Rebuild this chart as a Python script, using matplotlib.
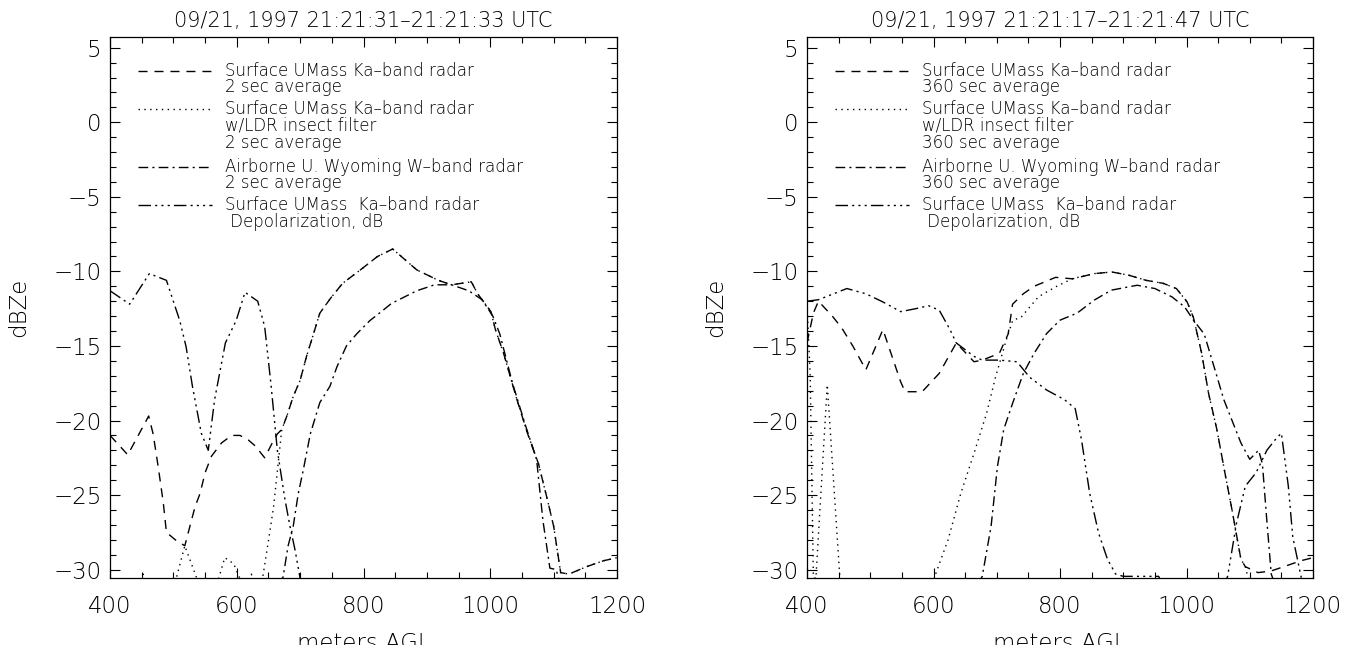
import matplotlib.pyplot as plt
from matplotlib.ticker import MultipleLocator

plt.rcParams['font.family'] = 'DejaVu Sans'
plt.rcParams['font.weight'] = 'light'
plt.rcParams['axes.titleweight'] = 'light'
plt.rcParams['axes.labelweight'] = 'light'

# ---- left panel: 2 sec average ----
left_title = '09/21, 1997 21:21:31\u201321:21:33 UTC'
left_avg = '2 sec average'

left_ka_x = [400, 428, 461, 468, 476, 484, 489, 503, 518, 534, 542, 550, 560, 576, 592, 605, 618, 629, 644, 656,
             664, 671, 679, 689, 700, 710, 721, 731, 748, 767, 795, 822, 846, 884, 918, 939, 970, 980, 1001, 1008,
             1021, 1042, 1059, 1076, 1090, 1100, 1111, 1124, 1152, 1179, 1200]
left_ka_y = [-21.0, -22.3, -19.7, -20.9, -23.1, -25.5, -27.5, -28.0, -28.4, -25.8, -24.9, -23.5, -22.4, -21.5, -21.0,
             -21.0, -21.3, -21.7, -22.5, -21.5, -20.9, -20.6, -19.7, -18.4, -17.3, -15.7, -14.2, -12.8, -11.8, -10.8,
             -9.9, -9.0, -8.5, -9.9, -10.6, -10.9, -10.7, -11.5, -12.7, -13.9, -15.5, -18.6, -20.9, -22.9, -25.3,
             -27.1, -30.2, -30.3, -29.8, -29.4, -29.2]

left_filt_x = [400, 448, 452, 458, 500, 505, 518, 537, 568, 572, 581, 595, 605, 618, 623, 628, 641, 652, 658, 666,
               671, 679, 689, 700, 710, 721, 731, 748, 767, 795, 822, 846, 884, 918, 939, 970, 980, 1001, 1008, 1021,
               1042, 1059, 1076, 1090, 1100, 1111, 1124, 1152, 1179, 1200]
left_filt_y = [-31, -31, -30.3, -31, -31, -30.5, -28.4, -30.6, -31, -30.5, -29.2, -29.6, -30.6, -31, -30.3, -31,
               -30.5, -27.5, -25.8, -22.6, -20.6, -19.7, -18.4, -17.3, -15.7, -14.2, -12.8, -11.8, -10.8, -9.9,
               -9.0, -8.5, -9.9, -10.6, -10.9, -10.7, -11.5, -12.7, -13.9, -15.5, -18.6, -20.9, -22.9, -25.3,
               -27.1, -30.2, -30.3, -29.8, -29.4, -29.2]

left_wband_x = [665, 673, 681, 689, 697, 705, 716, 731, 747, 758, 773, 789, 810, 831, 844, 884, 912, 939, 966, 987,
                1004, 1015, 1035, 1056, 1073, 1083, 1094, 1104, 1110]
left_wband_y = [-31, -30.5, -28.4, -27.1, -24.9, -23.3, -20.9, -18.8, -17.7, -16.4, -15.0, -14.2, -13.3, -12.6,
                -12.15, -11.3, -10.9, -10.9, -11.3, -11.9, -13.0, -14.2, -17.5, -20.4, -22.6, -26.7, -29.9, -30.0, -31]

left_ldr_x = [400, 431, 462, 489, 510, 520, 530, 544, 555, 565, 582, 599, 613, 633, 644, 654, 664, 676, 684, 692,
              700, 705]
left_ldr_y = [-11.3, -12.2, -10.15, -10.6, -13.3, -15.05, -17.7, -20.85, -22.0, -18.6, -14.8, -13.3, -11.4, -12.0,
              -13.7, -17.6, -22.0, -25.3, -27.1, -28.7, -30.6, -31]

# ---- right panel: 360 sec average ----
right_title = '09/21, 1997 21:21:17\u201321:21:47 UTC'
right_avg = '360 sec average'

right_ka_x = [400, 410, 418, 440, 455, 473, 493, 520, 548, 555, 582, 609, 636, 664, 677, 704, 718, 725, 742, 759,
              793, 820, 854, 882, 909, 936, 963, 984, 1001, 1011, 1024, 1035, 1048, 1062, 1072, 1086, 1093, 1113,
              1133, 1154, 1181, 1200]
right_ka_y = [-14.8, -12.8, -12.0, -13.0, -13.8, -15.05, -16.6, -13.9, -17.4, -18.07, -18.07, -16.84, -14.8, -16.06,
              -15.95, -15.5, -14.2, -12.2, -11.5, -11.0, -10.4, -10.5, -10.15, -10.04, -10.26, -10.6, -10.8, -11.15,
              -12.05, -13.1, -15.5, -18.2, -20.6, -23.8, -26.0, -29.3, -29.8, -30.2, -30.1, -29.8, -29.4, -29.2]

right_filt_x = [400, 405, 410, 414, 432, 452, 460, 596, 602, 623, 643, 664, 684, 698, 715, 725, 739, 766, 793, 820,
                854, 882, 909, 936, 963, 984, 1001, 1011, 1024, 1035, 1048, 1062, 1072, 1086, 1093, 1100]
right_filt_y = [-12.2, -17.0, -30.5, -30.6, -17.6, -30.6, -31, -31, -30.45, -28.0, -24.9, -22.2, -19.5, -17.1,
                -14.6, -13.3, -13.05, -11.7, -11.04, -10.48, -10.15, -10.04, -10.26, -10.6, -10.8, -11.15, -12.05,
                -13.1, -15.5, -18.2, -20.6, -23.8, -26.0, -29.3, -29.8, -31]

right_wband_x = [670, 677, 691, 701, 711, 725, 742, 759, 779, 800, 827, 854, 881, 922, 950, 977, 997, 1011, 1028,
                 1045, 1059, 1072, 1086, 1100, 1114, 1120, 1127, 1134, 1140]
right_wband_y = [-31, -30.45, -27.1, -23.1, -20.6, -18.85, -16.84, -15.5, -14.16, -13.27, -12.8, -11.93, -11.26,
                 -10.93, -11.15, -11.71, -12.38, -13.27, -14.2, -16.6, -18.6, -20.0, -21.5, -22.6, -22.0, -22.9,
                 -26.7, -30.3, -31]

right_ldr_x = [400, 418, 463, 493, 520, 548, 572, 592, 609, 626, 636, 664, 677, 704, 732, 752, 779, 807, 824, 834,
               847, 861, 875, 888, 900, 956, 962, 1060, 1065, 1079, 1093, 1110, 1127, 1140, 1150, 1161, 1168, 1181,
               1185]
right_ldr_y = [-12.0, -11.9, -11.15, -11.5, -12.05, -12.7, -12.5, -12.3, -12.6, -13.9, -14.8, -15.7, -15.95, -15.95,
               -16.06, -17.1, -17.96, -18.6, -19.2, -21.3, -24.9, -27.55, -29.3, -30.3, -30.45, -30.45, -31, -31,
               -30.45, -26.9, -24.4, -23.5, -22.0, -21.3, -20.85, -24.4, -27.8, -30.45, -31]

# IDL-like line styles: dashed, dotted, dash-dot, dash-dot-dot-dot
styles = [(0, (6.5, 5)), (0, (1, 3.2)), (0, (7, 3, 1.5, 3)), (0, (9, 3, 1.5, 3, 1.5, 3, 1.5, 3))]


def legend_labels(avg):
    return ['Surface UMass Ka\u2013band radar\n' + avg,
            'Surface UMass Ka\u2013band radar\nw/LDR insect filter\n' + avg,
            'Airborne U. Wyoming W\u2013band radar\n' + avg,
            'Surface UMass  Ka\u2013band radar\n Depolarization, dB']


def draw_panel(ax, title, avg, series):
    for (xs, ys), ls in zip(series, styles):
        ax.plot(xs, ys, color='black', lw=1.0, linestyle=ls)

    ax.set_xlim(400, 1200)
    ax.set_ylim(-30.56, 5.72)
    ax.xaxis.set_major_locator(MultipleLocator(200))
    ax.xaxis.set_minor_locator(MultipleLocator(50))
    ax.yaxis.set_major_locator(MultipleLocator(5))
    ax.yaxis.set_minor_locator(MultipleLocator(1))
    ax.tick_params(which='both', direction='in', top=True, right=True, width=0.8, labelsize=16.5)
    ax.tick_params(which='major', length=7)
    ax.tick_params(which='minor', length=4.5)
    ax.tick_params(axis='x', pad=12)
    ax.tick_params(axis='y', pad=6)
    for sp in ax.spines.values():
        sp.set_linewidth(0.9)

    ax.set_title(title, fontsize=15, pad=7)
    ax.set_xlabel('meters AGL', fontsize=16.5)
    ax.xaxis.set_label_coords(0.5, -0.1)
    ax.set_ylabel('dBZe', fontsize=16.5)
    ax.yaxis.set_label_coords(-0.158, 0.5)

    # hand-drawn legend block, line sample beside the first line of each entry
    rows = [0.9377, 0.8664, 0.7603, 0.6895]
    dy = 0.0309
    for label, ls, y0 in zip(legend_labels(avg), styles, rows):
        ax.plot([0.056, 0.201], [y0, y0], transform=ax.transAxes, color='black', lw=1.0, linestyle=ls)
        for j, line in enumerate(label.split('\n')):
            ax.text(0.227, y0 - j * dy, line, transform=ax.transAxes, fontsize=12, va='center', ha='left')


fig = plt.figure(figsize=(13.55, 6.45), dpi=100)
ax1 = fig.add_axes([0.0812, 0.1039, 0.3742, 0.8388])
ax2 = fig.add_axes([0.5956, 0.1039, 0.3734, 0.8388])

draw_panel(ax1, left_title, left_avg,
           [(left_ka_x, left_ka_y), (left_filt_x, left_filt_y), (left_wband_x, left_wband_y), (left_ldr_x, left_ldr_y)])
draw_panel(ax2, right_title, right_avg,
           [(right_ka_x, right_ka_y), (right_filt_x, right_filt_y), (right_wband_x, right_wband_y),
            (right_ldr_x, right_ldr_y)])

fig.savefig('out.png', dpi=100)
